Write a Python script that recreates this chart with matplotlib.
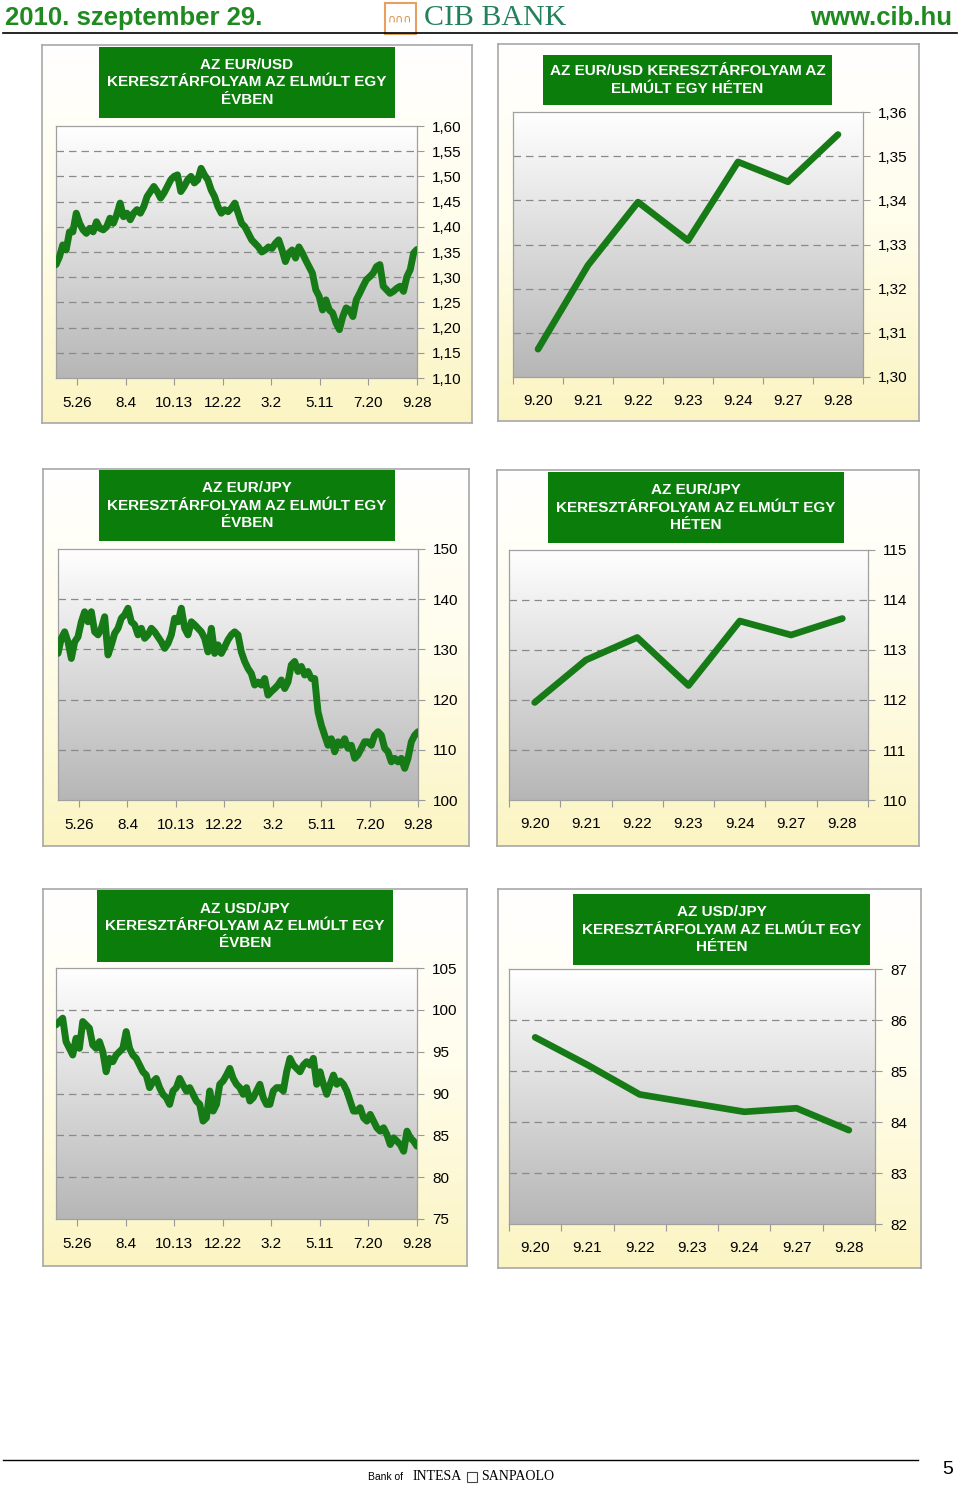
import numpy as np
import matplotlib
matplotlib.use('Agg')
import matplotlib.pyplot as plt
from matplotlib.colors import LinearSegmentedColormap
from matplotlib.patches import Rectangle
from matplotlib.lines import Line2D

plt.rcParams['font.family'] = ['Liberation Sans', 'DejaVu Sans']

W, H = 960, 1487

# ---- data ----
year_labels = ['5.26', '8.4', '10.13', '12.22', '3.2', '5.11', '7.20', '9.28']
week_labels = ['9.20', '9.21', '9.22', '9.23', '9.24', '9.27', '9.28']

eurusd_year = [
    1.325, 1.34, 1.364, 1.354, 1.39, 1.39, 1.427, 1.407, 1.394, 1.387,
    1.397, 1.39, 1.41, 1.397, 1.394, 1.40, 1.417, 1.407, 1.424, 1.447,
    1.42, 1.427, 1.414, 1.427, 1.434, 1.427, 1.44, 1.46, 1.47, 1.48,
    1.47, 1.457, 1.467, 1.48, 1.493, 1.50, 1.503, 1.47, 1.48, 1.493,
    1.50, 1.487, 1.493, 1.516, 1.503, 1.493, 1.473, 1.46, 1.44, 1.427,
    1.434, 1.43, 1.437, 1.447, 1.427, 1.407, 1.40, 1.387, 1.374, 1.367,
    1.36, 1.35, 1.354, 1.36, 1.357, 1.367, 1.374, 1.354, 1.331, 1.348,
    1.354, 1.338, 1.36, 1.348, 1.334, 1.321, 1.308, 1.275, 1.262, 1.235,
    1.255, 1.235, 1.229, 1.209, 1.196, 1.222, 1.239, 1.235, 1.222, 1.255,
    1.268, 1.282, 1.295, 1.301, 1.308, 1.321, 1.325, 1.282, 1.275, 1.268,
    1.272, 1.278, 1.282, 1.272, 1.301, 1.315, 1.348, 1.355,
]

eurjpy_year = [
    129.2, 132.2, 133.5, 131.5, 128.2, 131.5, 132.5, 135.5, 137.5, 135.5,
    137.5, 133.5, 132.9, 134.2, 136.5, 128.9, 130.9, 133.2, 134.2, 136.2,
    136.9, 138.2, 135.5, 134.9, 132.9, 134.2, 132.2, 132.9, 134.2, 133.5,
    132.5, 131.5, 130.2, 131.2, 132.9, 136.2, 135.5, 138.2, 134.2, 132.9,
    135.5, 134.9, 134.2, 133.5, 132.2, 129.5, 134.2, 129.2, 130.9, 129.2,
    130.5, 131.9, 132.9, 133.5, 132.9, 129.5, 127.6, 126.2, 125.2, 122.9,
    123.5, 122.9, 124.2, 120.9, 121.6, 122.2, 122.9, 123.9, 122.2, 123.5,
    126.9, 127.6, 125.6, 126.6, 124.9, 125.6, 124.2, 124.2, 117.6, 114.9,
    112.9, 110.9, 112.2, 109.6, 111.6, 110.9, 112.2, 110.3, 110.9, 108.3,
    109.0, 110.3, 111.6, 111.6, 110.9, 112.9, 113.6, 112.9, 110.3, 109.6,
    107.6, 108.3, 107.6, 108.3, 106.3, 108.3, 111.6, 112.9, 113.6,
]

usdjpy_year = [
    98.2, 98.6, 99.0, 96.2, 95.4, 94.6, 96.6, 95.4, 98.6, 98.2,
    97.8, 95.8, 95.4, 96.2, 95.0, 92.6, 94.2, 93.8, 94.6, 95.0,
    95.4, 97.4, 95.4, 94.6, 94.2, 93.4, 92.6, 92.2, 90.7, 91.4,
    91.8, 90.7, 89.9, 89.5, 88.7, 90.3, 90.7, 91.8, 91.0, 90.3,
    90.7, 89.9, 89.1, 88.7, 86.7, 87.1, 90.3, 87.9, 88.7, 91.1,
    91.5, 92.2, 93.0, 91.8, 91.1, 90.7, 89.9, 90.7, 89.1, 89.5,
    90.3, 91.1, 89.5, 88.7, 88.7, 90.3, 90.7, 90.7, 90.3, 92.6,
    94.2, 93.4, 93.0, 92.6, 93.4, 93.8, 93.4, 94.2, 91.1, 92.6,
    91.1, 89.9, 91.1, 92.2, 91.1, 91.5, 91.1, 90.3, 89.1, 87.9,
    87.9, 88.3, 87.1, 86.7, 87.5, 86.7, 85.9, 85.5, 85.9, 85.1,
    83.9, 84.7, 84.3, 83.9, 83.1, 85.5, 84.7, 84.3, 83.7,
]

eurusd_week = [1.3063, 1.3253, 1.3396, 1.3309, 1.3487, 1.3442, 1.3549]
eurjpy_week = [111.95, 112.80, 113.25, 112.29, 113.58, 113.30, 113.63]
usdjpy_week = [85.66, 85.12, 84.54, 84.37, 84.20, 84.27, 83.84]

eurusd_ticks = [1.10, 1.15, 1.20, 1.25, 1.30, 1.35, 1.40, 1.45, 1.50, 1.55, 1.60]
eurusd_wticks = [1.30, 1.31, 1.32, 1.33, 1.34, 1.35, 1.36]
eurjpy_ticks = [100, 110, 120, 130, 140, 150]
eurjpy_wticks = [110, 111, 112, 113, 114, 115]
usdjpy_ticks = [75, 80, 85, 90, 95, 100, 105]
usdjpy_wticks = [82, 83, 84, 85, 86, 87]

GREEN = '#0a7d0a'
LINE = '#167a16'
TXT_GREEN = '#1f8a1f'

panel_cmap = LinearSegmentedColormap.from_list('p', ['#ffffff', '#fffdea', '#fbf4c2'])
plot_cmap = LinearSegmentedColormap.from_list('q', ['#ffffff', '#b6b6b6'])
grad = np.linspace(0, 1, 256).reshape(-1, 1)


def rect(x0, y0, x1, y1):
    return [x0 / W, 1 - y1 / H, (x1 - x0) / W, (y1 - y0) / H]


def comma(v):
    return f'{v:.2f}'.replace('.', ',')


fig = plt.figure(figsize=(9.6, 14.87), dpi=100)
fig.patch.set_facecolor('white')


def panel(box, tbox, pbox, title, values, ticks, fmt, weekly):
    bg = fig.add_axes(rect(*box))
    bg.imshow(grad, cmap=panel_cmap, aspect='auto', extent=[0, 1, 0, 1])
    bg.set_xticks([])
    bg.set_yticks([])
    for s in bg.spines.values():
        s.set_color('#a8a8a8')
        s.set_linewidth(1.2)

    tb = fig.add_axes(rect(*tbox))
    tb.set_facecolor(GREEN)
    tb.set_xticks([])
    tb.set_yticks([])
    for s in tb.spines.values():
        s.set_visible(False)
    tb.text(0.5, 0.5, title, color='white', fontweight='bold', fontsize=11,
            ha='center', va='center', linespacing=1.3, transform=tb.transAxes)

    pg = fig.add_axes(rect(*pbox))
    pg.imshow(grad, cmap=plot_cmap, aspect='auto', extent=[0, 1, 0, 1])
    pg.axis('off')

    ax = fig.add_axes(rect(*pbox))
    ax.patch.set_alpha(0)
    if weekly:
        x = np.arange(len(values)) + 0.5
        ax.plot(x, values, color=LINE, lw=4.8, solid_capstyle='round',
                solid_joinstyle='round', zorder=3)
        ax.set_xlim(0, len(values))
        ax.set_xticks(np.arange(len(values) + 1))
        ax.set_xticklabels([])
        ax.set_xticks(x, minor=True)
        ax.set_xticklabels(week_labels, minor=True)
        ax.tick_params(axis='x', which='major', length=5, color='#999999')
        ax.tick_params(axis='x', which='minor', length=0, pad=12, labelsize=11)
    else:
        n = len(values)
        x = np.arange(n)
        ax.plot(x, values, color=LINE, lw=5.0, solid_capstyle='round',
                solid_joinstyle='round', zorder=3)
        ax.set_xlim(0, n - 1)
        pos = [(n - 1) * (1 - 0.1345 * k) for k in range(7, -1, -1)]
        ax.set_xticks(pos)
        ax.set_xticklabels(year_labels)
        ax.tick_params(axis='x', length=5, color='#999999', pad=8, labelsize=11)

    ax.set_ylim(ticks[0], ticks[-1])
    ax.set_yticks(ticks)
    ax.set_yticklabels([fmt(t) for t in ticks])
    ax.yaxis.tick_right()
    ax.tick_params(axis='y', length=5, color='#999999', pad=6, labelsize=11)
    for t in ticks[1:-1]:
        ax.axhline(t, color='#8a8a8a', lw=0.9, ls=(0, (6, 4)), zorder=1)
    for s in ax.spines.values():
        s.set_color('#a0a0a0')
        s.set_linewidth(0.9)


panel((42, 45, 472, 423), (99, 47, 395, 118), (56, 126, 417, 378),
      'AZ EUR/USD\nKERESZTÁRFOLYAM AZ ELMÚLT EGY\nÉVBEN',
      eurusd_year, eurusd_ticks, comma, False)
panel((498, 44, 919, 421), (543, 55, 832, 105), (513, 112, 863, 377),
      'AZ EUR/USD KERESZTÁRFOLYAM AZ\nELMÚLT EGY HÉTEN',
      eurusd_week, eurusd_wticks, comma, True)
panel((43, 469, 469, 846), (99, 470, 395, 541), (58, 549, 418, 800),
      'AZ EUR/JPY\nKERESZTÁRFOLYAM AZ ELMÚLT EGY\nÉVBEN',
      eurjpy_year, eurjpy_ticks, lambda v: f'{v:d}', False)
panel((497, 470, 919, 846), (548, 472, 844, 543), (509, 550, 868, 800),
      'AZ EUR/JPY\nKERESZTÁRFOLYAM AZ ELMÚLT EGY\nHÉTEN',
      eurjpy_week, eurjpy_wticks, lambda v: f'{v:d}', True)
panel((43, 889, 467, 1266), (97, 890, 393, 962), (56, 968, 417, 1219),
      'AZ USD/JPY\nKERESZTÁRFOLYAM AZ ELMÚLT EGY\nÉVBEN',
      usdjpy_year, usdjpy_ticks, lambda v: f'{v:d}', False)
panel((498, 889, 921, 1268), (573, 894, 870, 965), (509, 969, 875, 1224),
      'AZ USD/JPY\nKERESZTÁRFOLYAM AZ ELMÚLT EGY\nHÉTEN',
      usdjpy_week, usdjpy_wticks, lambda v: f'{v:d}', True)

# ---- header ----
fig.text(5 / W, 1 - 18 / H, '2010. szeptember 29.', color=TXT_GREEN,
         fontsize=18.5, fontweight='bold', ha='left', va='center')
fig.text(952 / W, 1 - 18 / H, 'www.cib.hu', color=TXT_GREEN,
         fontsize=18.5, fontweight='bold', ha='right', va='center')
fig.patches.append(Rectangle((385 / W, 1 - 34 / H), 31 / W, 31 / H,
                             transform=fig.transFigure, fill=False,
                             edgecolor='#e8a060', lw=1.5))
fig.text(400 / W, 1 - 19 / H, '∩∩∩', color='#d88a40', fontsize=8,
         ha='center', va='center', family='DejaVu Sans')
fig.text(424 / W, 1 - 18 / H, 'CIB BANK', color='#23805a', fontsize=21.5,
         family='Liberation Serif', ha='left', va='center')
fig.lines.append(Line2D([3 / W, 957 / W], [1 - 33 / H, 1 - 33 / H],
                        transform=fig.transFigure, color='black', lw=1.2))

# ---- footer ----
fig.lines.append(Line2D([3 / W, 918 / W], [1 - 1460 / H, 1 - 1460 / H],
                        transform=fig.transFigure, color='black', lw=1.0))
fig.text(368 / W, 1 - 1477 / H, 'Bank of', fontsize=7.5, ha='left', va='center')
fig.text(413 / W, 1 - 1477 / H, 'INTESA', fontsize=10,
         family='Liberation Serif', ha='left', va='center')
fig.patches.append(Rectangle((467 / W, 1 - 1482 / H), 10 / W, 10 / H,
                             transform=fig.transFigure, fill=False,
                             edgecolor='#444444', lw=0.8))
fig.text(481 / W, 1 - 1477 / H, 'SANPAOLO', fontsize=10,
         family='Liberation Serif', ha='left', va='center')
fig.text(948 / W, 1 - 1470 / H, '5', fontsize=14, ha='center', va='center')

fig.savefig('out.png', dpi=100)
